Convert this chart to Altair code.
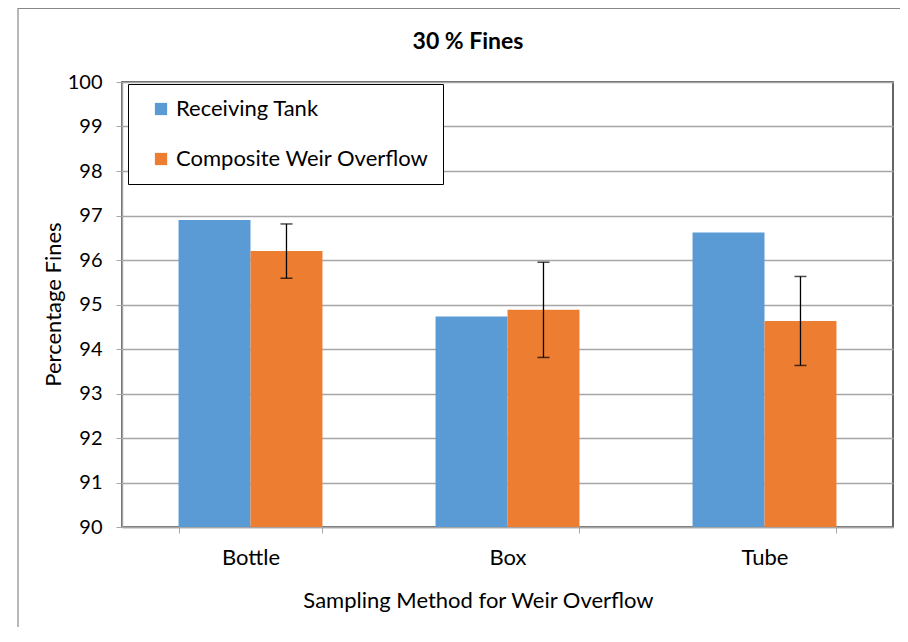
import altair as alt
import pandas as pd

categories = ["Bottle", "Box", "Tube"]
series_names = ["Receiving Tank", "Composite Weir Overflow"]
receiving = [96.90, 94.73, 96.62]
composite = [96.20, 94.88, 94.63]
composite_err = [0.61, 1.07, 1.00]
y_ticks = [90, 91, 92, 93, 94, 95, 96, 97, 98, 99, 100]
chart_title = ["30 % Fines"]

rows = []
for c, r, w in zip(categories, receiving, composite):
    rows.append({"Method": c, "Series": series_names[0], "Value": r})
    rows.append({"Method": c, "Series": series_names[1], "Value": w})
bars_df = pd.DataFrame(rows)

err_df = pd.DataFrame({
    "Method": categories,
    "Series": [series_names[1]] * 3,
    "lo": [v - e for v, e in zip(composite, composite_err)],
    "hi": [v + e for v, e in zip(composite, composite_err)],
})

FONT = "Lato"
GRID = "#A6A6A6"

x_enc = alt.X(
    "Method:N",
    sort=categories,
    scale=alt.Scale(paddingInner=0.44, paddingOuter=0.22),
    axis=alt.Axis(
        title="Sampling Method for Weir Overflow",
        labelAngle=0,
        tickBand="extent",
        tickSize=6,
        tickColor=GRID,
        domainColor=GRID,
        domainWidth=1.5,
        labelFontSize=22,
        labelPadding=14,
        labelColor="#000000",
        titleFontSize=22,
        titleFontWeight="normal",
        titleColor="#000000",
        titleX=356,
        titleY=73,
        titleAlign="center",
        titleBaseline="middle",
    ),
)
xoff = alt.XOffset("Series:N", sort=series_names, scale=alt.Scale(domain=series_names))

y_scale = alt.Scale(domain=[90, 100], zero=False, nice=False)

frame = alt.Chart(pd.DataFrame({"k": [0]})).mark_rect(
    fill="transparent", stroke="#888888", strokeWidth=1.2
).encode(
    x=alt.value(-104), x2=alt.value(900), y=alt.value(-73.5), y2=alt.value(700)
)

title_mark = alt.Chart(pd.DataFrame({"t": chart_title})).mark_text(
    font=FONT, fontSize=23, fontWeight="bold", color="#000000",
    align="center", baseline="middle",
).encode(
    text="t:N", x=alt.value(346), y=alt.value(-40)
)

bars = alt.Chart(bars_df).mark_bar().encode(
    x=x_enc,
    xOffset=xoff,
    y=alt.Y(
        "Value:Q",
        scale=y_scale,
        axis=alt.Axis(
            title="Percentage Fines",
            values=y_ticks,
            tickSize=6,
            tickColor=GRID,
            domainColor=GRID,
            domainWidth=1.5,
            grid=True,
            gridColor=GRID,
            gridWidth=1.5,
            labelFontSize=20,
            labelPadding=14,
            labelColor="#000000",
            titleFontSize=22,
            titleFontWeight="normal",
            titleColor="#000000",
            titleX=-69,
            titleY=222,
            titleAlign="center",
            titleBaseline="middle",
        ),
    ),
    y2=alt.datum(90),
    color=alt.Color(
        "Series:N",
        sort=series_names,
        scale=alt.Scale(domain=series_names, range=["#5B9BD5", "#ED7D31"]),
        legend=alt.Legend(
            title=None,
            orient="none",
            legendX=6,
            legendY=2,
            direction="vertical",
            symbolType="square",
            symbolSize=150,
            symbolStrokeWidth=0,
            symbolOffset=8,
            labelFontSize=22,
            labelColor="#000000",
            labelFont=FONT,
            labelLimit=400,
            rowPadding=28,
            padding=14,
            strokeColor="#000000",
            fillColor="#FFFFFF",
        ),
    ),
)

rule = alt.Chart(err_df).mark_rule(color="#000000", strokeWidth=1.3).encode(
    x=alt.X("Method:N", sort=categories),
    xOffset=xoff,
    y=alt.Y("lo:Q", scale=y_scale),
    y2="hi:Q",
)
cap_lo = alt.Chart(err_df).mark_tick(color="#000000", thickness=1.5, size=12).encode(
    x=alt.X("Method:N", sort=categories),
    xOffset=xoff,
    y=alt.Y("lo:Q", scale=y_scale),
)
cap_hi = alt.Chart(err_df).mark_tick(color="#000000", thickness=1.5, size=12).encode(
    x=alt.X("Method:N", sort=categories),
    xOffset=xoff,
    y=alt.Y("hi:Q", scale=y_scale),
)

chart = alt.layer(frame, bars, rule, cap_lo, cap_hi, title_mark).properties(
    width=771,
    height=445,
    autosize=alt.AutoSizeParams(type="none"),
    padding={"left": 114, "top": 74, "right": 7, "bottom": 100},
).configure(
    font=FONT,
).configure_view(
    stroke="#333333",
    strokeWidth=1.5,
)

chart.save("out.html", embed_options={"renderer": "svg", "actions": False})
